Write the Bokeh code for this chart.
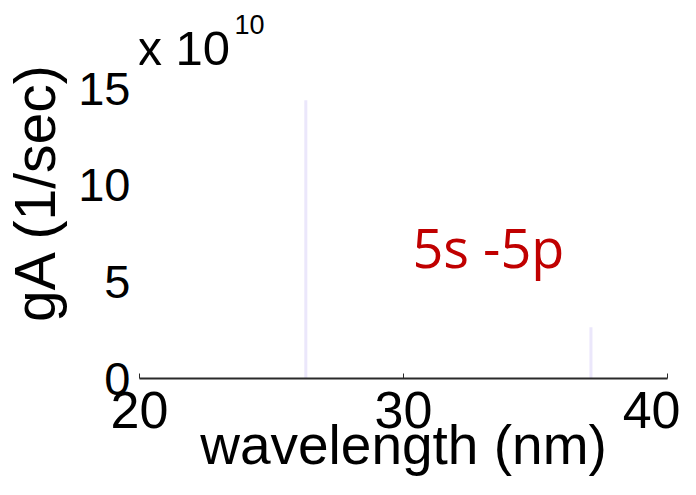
from bokeh.plotting import figure
from bokeh.models import Range1d, Label, FixedTicker, ColumnDataSource
from bokeh.embed import file_html
from bokeh.resources import INLINE

# data (gA in units of 1e10 1/sec)
wavelength_nm = [26.3, 37.1]
gA_1e10 = [14.4, 2.65]
x_ticks = [20, 30, 40]
y_ticks = [0, 5, 10, 15]

src = ColumnDataSource(dict(x=wavelength_nm, y0=[0] * len(gA_1e10), y1=gA_1e10))

# the y range runs past 15 so that the "x 10^10" multiplier can sit above the ticks
p = figure(width=680, height=479, output_backend="svg", toolbar_location=None,
           x_range=Range1d(20, 40), y_range=Range1d(0, 19.3),
           min_border_left=139, min_border_right=13, min_border_top=5,
           min_border_bottom=101)
p.outline_line_color = None
p.xgrid.visible = False
p.ygrid.visible = False
p.background_fill_color = "white"
p.border_fill_color = "white"

p.segment(x0="x", y0="y0", x1="x", y1="y1", source=src,
          line_color="#ebe7fb", line_width=3)

FONT = "Liberation Sans"
xa = p.xaxis[0]
xa.ticker = FixedTicker(ticks=x_ticks)
xa.axis_line_color = "#2a2a2a"
xa.axis_line_width = 2
xa.major_tick_in = 5
xa.major_tick_out = 0
xa.major_tick_line_color = "#2a2a2a"
xa.minor_tick_line_color = None
xa.major_label_text_font = FONT
xa.major_label_text_font_size = "52px"
xa.major_label_text_color = "black"
xa.major_label_standoff = 13
xa.axis_label = "wavelength (nm)"
xa.axis_label_text_font = FONT
xa.axis_label_text_font_size = "55px"
xa.axis_label_text_font_style = "normal"
xa.axis_label_text_color = "black"
xa.axis_label_standoff = -17

ya = p.yaxis[0]
ya.ticker = FixedTicker(ticks=y_ticks)
ya.axis_line_color = None
ya.major_tick_line_color = None
ya.minor_tick_line_color = None
ya.major_tick_in = 0
ya.major_tick_out = 0
ya.major_label_text_font = FONT
ya.major_label_text_font_size = "47px"
ya.major_label_text_color = "black"
ya.major_label_standoff = 9
ya.axis_label = "gA (1/sec)"
ya.axis_label_text_font = FONT
ya.axis_label_text_font_size = "57px"
ya.axis_label_text_font_style = "normal"
ya.axis_label_text_color = "black"
ya.axis_label_standoff = 8

p.add_layout(Label(x=19.92, y=17.1, text="x 10",
                   text_font=FONT, text_font_size="49px", text_color="black",
                   text_baseline="alphabetic"))
p.add_layout(Label(x=23.6, y=18.32, text="10",
                   text_font=FONT, text_font_size="27px", text_color="black",
                   text_baseline="alphabetic"))
p.add_layout(Label(x=30.34, y=6.8, text="5s -5p",
                   text_font="Open Sans", text_font_size="54px",
                   text_color="#c00000", text_baseline="alphabetic"))

open("out.html", "w").write(file_html(p, INLINE))
